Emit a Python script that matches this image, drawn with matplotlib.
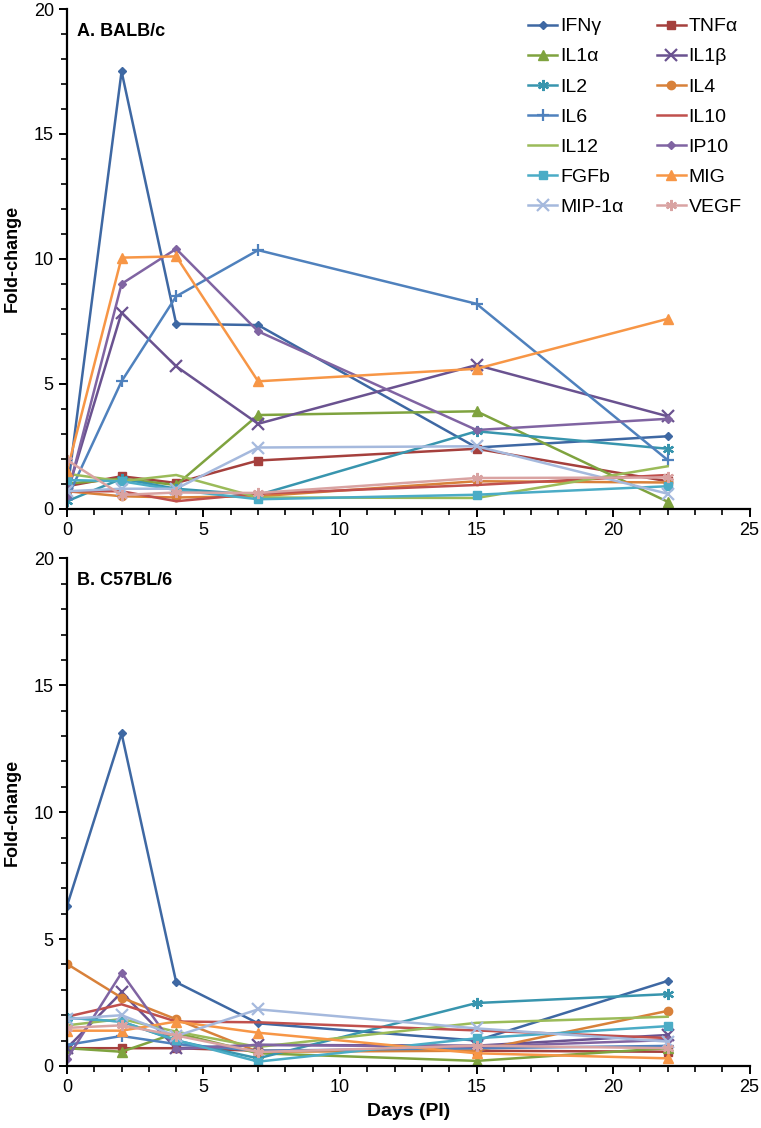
import numpy as np
import matplotlib
matplotlib.use("Agg")
import matplotlib.pyplot as plt
from matplotlib.ticker import MultipleLocator

plt.rcParams['font.family'] = ['Liberation Sans', 'DejaVu Sans']

days = [0, 2, 4, 7, 15, 22]
names = ["IFNγ", "TNFα", "IL1α", "IL1β", "IL2", "IL4", "IL6", "IL10",
         "IL12", "IP10", "FGFb", "MIG", "MIP-1α", "VEGF"]

# A. BALB/c
balb = {
    "IFNγ":   [0.6, 17.5, 7.4, 7.35, 2.45, 2.9],
    "TNFα":   [0.9, 1.3, 1.03, 1.93, 2.4, 1.1],
    "IL1α":   [1.0, 1.2, 0.95, 3.75, 3.9, 0.28],
    "IL1β":   [0.6, 7.85, 5.7, 3.4, 5.75, 3.7],
    "IL2":    [0.3, 1.2, 0.8, 0.55, 3.1, 2.4],
    "IL4":    [0.7, 0.5, 0.45, 0.5, 1.1, 1.05],
    "IL6":    [0.4, 5.1, 8.5, 10.35, 8.2, 1.95],
    "IL10":   [0.7, 0.7, 0.3, 0.6, 0.95, 1.35],
    "IL12":   [1.4, 1.1, 1.35, 0.45, 0.43, 1.7],
    "IP10":   [0.5, 9.0, 10.4, 7.1, 3.15, 3.6],
    "FGFb":   [1.15, 1.1, 0.75, 0.38, 0.56, 0.9],
    "MIG":    [1.5, 10.05, 10.1, 5.1, 5.6, 7.6],
    "MIP-1α": [0.7, 0.8, 0.8, 2.45, 2.5, 0.6],
    "VEGF":   [1.95, 0.55, 0.65, 0.63, 1.23, 1.25],
}

# B. C57BL/6
c57 = {
    "IFNγ":   [6.3, 13.1, 3.3, 1.68, 1.0, 3.35],
    "TNFα":   [0.7, 0.7, 0.7, 0.6, 0.6, 0.56],
    "IL1α":   [0.7, 0.56, 1.3, 0.5, 0.2, 0.7],
    "IL1β":   [0.7, 2.9, 0.7, 0.83, 0.8, 1.22],
    "IL2":    [1.9, 1.75, 1.0, 0.3, 2.48, 2.83],
    "IL4":    [4.02, 2.69, 1.84, 0.56, 0.6, 2.17],
    "IL6":    [0.83, 1.18, 0.86, 0.6, 0.7, 0.79],
    "IL10":   [1.94, 2.43, 1.75, 1.72, 1.4, 1.1],
    "IL12":   [1.6, 1.85, 1.35, 0.75, 1.7, 1.94],
    "IP10":   [0.28, 3.67, 0.66, 0.83, 0.76, 1.02],
    "FGFb":   [1.9, 1.75, 1.02, 0.17, 1.09, 1.57],
    "MIG":    [1.39, 1.39, 1.75, 1.31, 0.5, 0.3],
    "MIP-1α": [1.85, 2.0, 1.18, 2.23, 1.48, 0.96],
    "VEGF":   [1.5, 1.6, 1.2, 0.55, 0.8, 0.7],
}

colors = ["#3E68A3", "#A5403D", "#7FA33F", "#6A5290", "#3895AE", "#D8813A",
          "#4F81BD", "#C0504D", "#9BBB59", "#8064A2", "#4BACC6", "#F79646",
          "#A5B9DD", "#D9A3A2"]
markers = ["D", "s", "^", "x", (6, 2, 0), "o", "+", None, None, "D", "s", "^", "x", (6, 2, 0)]
msizes = [4.5, 6, 6.5, 8, 8, 6, 9, 0, 0, 4.5, 6, 6.5, 8, 8]

fig = plt.figure(figsize=(7.61, 11.28), dpi=100)
ax1 = fig.add_axes([0.088, 0.549, 0.897, 0.443])
ax2 = fig.add_axes([0.088, 0.055, 0.897, 0.450])

for ax, data, title in [(ax1, balb, "A. BALB/c"), (ax2, c57, "B. C57BL/6")]:
    for i, n in enumerate(names):
        m = markers[i]
        ax.plot(days, data[n], color=colors[i], lw=1.8, marker=m,
                ms=msizes[i], mew=1.6 if m in ("x", "+") or isinstance(m, tuple) else 1,
                label=n)
    ax.set_xlim(0, 25)
    ax.set_ylim(0, 20)
    ax.xaxis.set_major_locator(MultipleLocator(5))
    ax.xaxis.set_minor_locator(MultipleLocator(1))
    ax.yaxis.set_major_locator(MultipleLocator(5))
    ax.yaxis.set_minor_locator(MultipleLocator(1))
    for s in ("top", "right"):
        ax.spines[s].set_visible(False)
    for s in ("left", "bottom"):
        ax.spines[s].set_linewidth(1.6)
    ax.tick_params(which="major", direction="out", length=6, width=1.4, labelsize=13)
    ax.tick_params(which="minor", direction="out", length=4, width=1.2)
    ax.set_ylabel("Fold-change", fontsize=13, fontweight="bold")
    ax.yaxis.set_label_coords(-0.068, 0.5)
    ax.text(0.014, 0.973, title, transform=ax.transAxes, fontsize=13,
            fontweight="bold", va="top", ha="left")

# legend filled row by row, as in the original
h, l = ax1.get_legend_handles_labels()
order = list(range(0, 14, 2)) + list(range(1, 14, 2))
ax1.legend([h[k] for k in order], [l[k] for k in order], loc="upper right",
           ncol=2, frameon=False, fontsize=14, handlelength=1.5,
           handletextpad=0.15, columnspacing=1.7, labelspacing=0.64,
           borderaxespad=0.0, bbox_to_anchor=(1.0, 0.998))
ax2.set_xlabel("Days (PI)", fontsize=14, fontweight="bold", labelpad=5)

fig.savefig("out.png", dpi=100)
